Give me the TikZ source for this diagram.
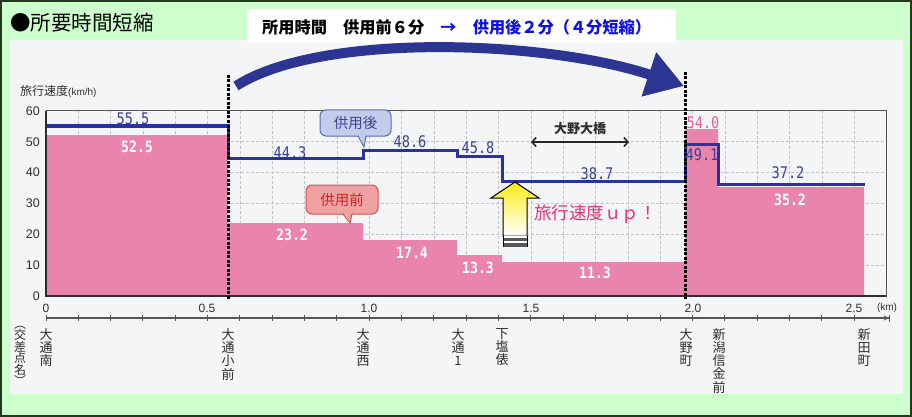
\documentclass[tikz,border=0pt]{standalone}
\usepackage{fontspec}
\setmainfont{Noto Sans CJK JP}
\newfontfamily\jpf{Noto Sans CJK JP}
\newfontfamily\monof{DejaVu Sans Mono}[FakeStretch=0.85]
\newfontfamily\arialf{Liberation Sans}
\usetikzlibrary{arrows.meta}
\definecolor{bggreen}{RGB}{204,255,204}
\definecolor{panelgray}{RGB}{244,245,247}
\definecolor{barpink}{RGB}{233,133,172}
\definecolor{lineblue}{RGB}{40,50,160}
\definecolor{bigblue}{RGB}{44,54,146}
\definecolor{txtblue}{RGB}{55,65,155}
\definecolor{gridgray}{RGB}{195,195,195}
\definecolor{axisgray}{RGB}{85,85,85}
\definecolor{labgray}{RGB}{45,45,45}
\definecolor{pinktxt}{RGB}{228,95,150}
\definecolor{uptxt}{RGB}{232,50,110}
\definecolor{cbfill}{RGB}{196,204,236}
\definecolor{cbdraw}{RGB}{95,105,180}
\definecolor{cbtext}{RGB}{60,70,140}
\definecolor{crfill}{RGB}{240,162,162}
\definecolor{crdraw}{RGB}{212,80,80}
\definecolor{crtext}{RGB}{215,35,35}
\definecolor{bannerblue}{RGB}{15,15,235}
\definecolor{framedark}{RGB}{35,55,35}
\definecolor{yelw}{RGB}{255,236,20}
\tikzset{
  gridline/.style={gridgray, line width=0.8, dash pattern=on 3pt off 2pt},
  vdash/.style={black, line width=3, dash pattern=on 3pt off 1.5pt},
  bluenum/.style={font=\monof\fontsize{16}{16}\selectfont, text=txtblue, inner sep=0},
  whitenum/.style={font=\monof\bfseries\fontsize{15.5}{15.5}\selectfont, text=white, inner sep=0},
  pinknum/.style={font=\monof\fontsize{16}{16}\selectfont, text=pinktxt, inner sep=0},
  stn/.style={anchor=north, align=center, inner sep=0, font=\jpf\fontsize{13}{13.3}\selectfont, text=labgray},
  ytk/.style={anchor=east, inner sep=0, font=\arialf\fontsize{12.5}{12.5}\selectfont, text=labgray},
  xtk/.style={inner sep=0, font=\arialf\fontsize{12}{12}\selectfont, text=labgray},
  cbbox/.style={draw=cbdraw, fill=cbfill, rounded corners=6, line width=1, text=cbtext, font=\jpf\fontsize{14.5}{14.5}\selectfont, inner sep=0},
  crbox/.style={draw=crdraw, fill=crfill, rounded corners=6, line width=1, text=crtext, font=\jpf\fontsize{14.5}{14.5}\selectfont, inner sep=0},
}
\begin{document}
\begin{tikzpicture}[x=1pt,y=-1pt]
\useasboundingbox (0,0) rectangle (912,417);
% backgrounds
\fill[bggreen] (0,0) rectangle (912,417);
\fill[panelgray] (10,40) rectangle (903,394);
% grid
\foreach \i in {1,...,25} \draw[gridline] ({46+32.33*\i},111) -- ({46+32.33*\i},296);
\foreach \v in {1,...,5} \draw[gridline] (46,{296-30.83*\v}) -- (886,{296-30.83*\v});
% pink bars (before)
\fill[barpink] (46,296) -- (46,135) -- (228,135) -- (228,223) -- (363,223) -- (363,240)
  -- (457,240) -- (457,255) -- (502,255) -- (502,262) -- (685,262) -- (685,129)
  -- (718,129) -- (718,187) -- (864,187) -- (864,296) -- cycle;
% blue line (after)
\draw[lineblue, line width=3] (45,126) -- (228,126) -- (228,158) -- (363,158) -- (363,150)
  -- (457,150) -- (457,156) -- (502,156) -- (502,181) -- (685,181) -- (685,144)
  -- (718,144) -- (718,184) -- (865,184);
% frame and axes
\draw[axisgray, line width=1] (46,111) rectangle (886,296);
\draw[labgray, line width=1.8] (46,111) -- (46,296) -- (886,296);
% y ticks
\foreach \v in {0,1,...,6} \node[ytk] (yt\v) at (40,{296-30.83*\v}) {\the\numexpr\v*10\relax};
\node[anchor=west, inner sep=0, text=labgray, font=\jpf\fontsize{12}{12}\selectfont] (ytitle) at (20,91) {旅行速度{\arialf\fontsize{10}{10}\selectfont(km/h)}};
% x tick labels
\node[xtk] (x0) at (46,308) {0};
\node[xtk] (x05) at (207,308) {0.5};
\node[xtk] (x10) at (369,308) {1.0};
\node[xtk] (x15) at (531,308) {1.5};
\node[xtk] (x20) at (693,308) {2.0};
\node[xtk] (x25) at (854,308) {2.5};
\node[xtk, font=\arialf\fontsize{10}{10}\selectfont] (xkm) at (887,308) {(km)};
% second axis
\draw[axisgray, line width=1.2, -{Stealth[length=5pt,width=5pt]Bar[width=7pt]}] (46,318) -- (890,318);
\foreach \i in {0,...,25} \draw[axisgray, line width=1] ({46+32.33*\i},315) -- ({46+32.33*\i},321);
% dashed verticals
\coordinate (d1t) at (228,75); \coordinate (d1b) at (228,299);
\coordinate (d2t) at (685,72); \coordinate (d2b) at (685,299);
\draw[vdash] (d1t) -- (d1b);
\draw[vdash] (d2t) -- (d2b);
% value labels
\node[bluenum] (a1) at (133,119) {55.5};
\node[bluenum] (a2) at (290,153) {44.3};
\node[bluenum] (a3) at (410,142) {48.6};
\node[bluenum] (a4) at (478,148) {45.8};
\node[bluenum] (a5) at (597,174) {38.7};
\node[bluenum] (a6) at (702,155) {49.1};
\node[bluenum] (a7) at (788,173) {37.2};
\node[whitenum] (b1) at (137,147) {52.5};
\node[whitenum] (b2) at (292,235) {23.2};
\node[whitenum] (b3) at (412,253) {17.4};
\node[whitenum] (b4) at (478,268) {13.3};
\node[whitenum] (b5) at (595,273) {11.3};
\node[pinknum] (b6) at (703,123) {54.0};
\node[whitenum] (b7) at (790,200) {35.2};
% callout after
\node[cbbox, minimum width=71, minimum height=26] (after) at (355.5,123) {供用後};
\fill[cbfill] (358.5,134.5) -- (365.5,134.5) -- (364,146) -- cycle;
\draw[cbdraw, line width=1] (358,136) -- (364,147) -- (366,136);
% callout before
\node[crbox, minimum width=72, minimum height=29] (before) at (342,199.5) {供用前};
\fill[crfill] (343.5,212.5) -- (351.5,212.5) -- (350,222) -- cycle;
\draw[crdraw, line width=1] (343,214) -- (350,223) -- (352,214);
% yellow arrow
\shade[top color=yelw, bottom color=white, draw=black, line width=1] (515,182) -- (539,198) -- (527,198) -- (527,236) -- (503,236) -- (503,198) -- (491,198) -- cycle;
\fill[white] (503,236) rectangle (527,247);
\fill[black!65] (503,238) rectangle (527,240.5);
\fill[black!65] (503,243) rectangle (527,246.5);
\draw[black, line width=0.8] (503,236) -- (503,247) (527,236) -- (527,247);
\node[anchor=west, inner sep=0, text=uptxt, font=\jpf\fontsize{17.5}{17.5}\selectfont] (up) at (534,214) {旅行速度ｕｐ！};
% bridge
\node[inner sep=0, text=labgray, font=\jpf\bfseries\fontsize{13}{13}\selectfont] (ohashi) at (580,129) {大野大橋};
\coordinate (ohL) at (531,142); \coordinate (ohR) at (629,142);
\draw[black!85, line width=1.6, {Straight Barb[length=4pt,width=9pt]}-{Straight Barb[length=4pt,width=9pt]}] (ohL) -- (ohR);
% stations
\node[stn] (s1) at (46,328) {大\\通\\南};
\node[stn] (s2) at (228,328) {大\\通\\小\\前};
\node[stn] (s3) at (363,328) {大\\通\\西};
\node[stn] (s4) at (458,328) {大\\通\\1};
\node[stn] (s5) at (502,328) {下\\塩\\俵};
\node[stn] (s6) at (686,328) {大\\野\\町};
\node[stn] (s7) at (719,328) {新\\潟\\信\\金\\前};
\node[stn] (s8) at (864,328) {新\\田\\町};
\node[stn, font=\jpf\fontsize{12}{11.5}\selectfont] (kousa) at (20,326) {︵\\交\\差\\点\\名\\︶};
% big arrow
\coordinate (bigS) at (236,86);
\coordinate (bigE) at (684,86);
\fill[white] (247,9) rectangle (676,43);
\draw[bigblue, line width=10, -{Triangle[length=37pt,width=44pt]}] (bigS) .. controls (320,32) and (545,40) .. (bigE);
% banner and title
\node[anchor=west, inner sep=0, font=\jpf\bfseries\fontsize{16.2}{16.2}\selectfont] (banner) at (262,27) {所用時間　供用前６分　\textcolor{bannerblue}{→　供用後２分（４分短縮）}};
\node[anchor=west, inner sep=0, font=\jpf\fontsize{20.5}{20.5}\selectfont] (title) at (10,22.5) {●所要時間短縮};
% outer frame
\draw[framedark, line width=2] (1,1) rectangle (911,416);
\end{tikzpicture}
\end{document}
